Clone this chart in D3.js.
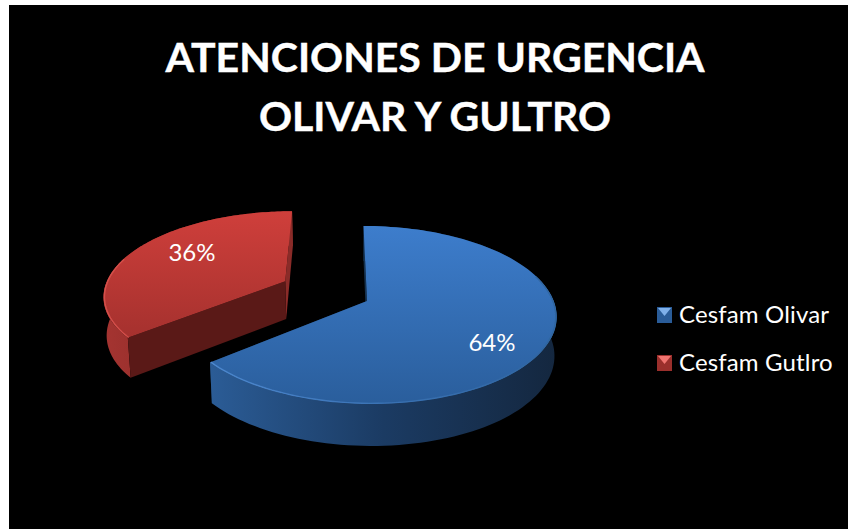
<!DOCTYPE html>
<html>
<head>
<meta charset="utf-8">
<script src="https://cdn.jsdelivr.net/npm/d3@7"></script>
<style>
html, body { margin: 0; padding: 0; background: #fff; }
svg { display: block; }
text { font-family: Lato, "Open Sans", sans-serif; fill: #fff; }
</style>
</head>
<body>
<div id="chart"></div>
<script>
const titleLines = ['ATENCIONES DE URGENCIA', 'OLIVAR Y GULTRO'];
const categories = ['Cesfam Olivar', 'Cesfam Gutlro'];
const values = [64, 36];

const w = 848, h = 529;

//// 3d look of the pie
const cx = 367, cy = 301;
const rx = 186.7, ry = 86.8;
const persp = 0.157;
const shear = 4;
const depth = 38.5;
const explode = [0, 0.47];
const sliceScale = [1, 0.985];
const nudge = [[0, 0], [-4, -3]];

const palette = [
	{ top: ['#3d7dcc', '#2a5e9c'], side: ['#2b5c96', '#1b3b63', '#14273f'], rim: ['#4d88cf', '#3a72b4', '#2f659f'], wall: '#16324f', wall2: '#16324f', light: '#7fb0ea', dark: '#2a5c98' },
	{ top: ['#cf3f3b', '#a5312e'], side: ['#a53431', '#8a2a27', '#8a2b28'], rim: ['#d5504b', '#c4403c', '#a5312e'], wall: '#5a1917', wall2: '#8a2b28', light: '#f07470', dark: '#9a2f2c' }
];

//// disc coordinates (u right, v toward viewer) to the screen, z 0 top and 1 bottom
const project = (u, v, z) => {
	const s = 1 / (1 - persp * v);
	const shrink = 1 - 0.012 * z;
	return [
		cx + (rx * u + shear * v) * s * shrink,
		cy + ry * v * s + z * depth * (1 + 0.09 * v)
	];
};

const pie = d3.pie().sort(null)(values);

const line = d3.line();

const svg = d3.select('#chart').append('svg')
	.attr('width', w)
	.attr('height', h);

const defs = svg.append('defs');

const addGradient = (id, x1, y1, x2, y2, stops) => {
	const g = defs.append('linearGradient')
		.attr('id', id)
		.attr('gradientUnits', 'userSpaceOnUse')
		.attr('x1', x1).attr('y1', y1).attr('x2', x2).attr('y2', y2);
	stops.forEach((c, i) => {
		g.append('stop')
			.attr('offset', i / (stops.length - 1))
			.attr('stop-color', c);
	});
};

defs.append('filter').attr('id', 'soft')
	.append('feGaussianBlur').attr('stdDeviation', 0.5);

svg.append('rect')
	.attr('x', 9).attr('y', 5)
	.attr('width', w - 9).attr('height', h - 5)
	.attr('fill', '#000');

//// title
svg.selectAll('text.title')
	.data(titleLines)
	.enter()
	.append('text')
	.attr('class', 'title')
	.attr('x', 435)
	.attr('y', (d, i) => 72 + i * 59)
	.attr('text-anchor', 'middle')
	.attr('font-size', 41)
	.attr('font-weight', 700)
	.attr('stroke', '#fff')
	.attr('stroke-width', 0.4)
	.text(d => d);

const slices = pie.map((d, i) => {
	const mid = (d.startAngle + d.endAngle) / 2;
	const ox = Math.sin(mid) * explode[i];
	const oy = -Math.cos(mid) * explode[i];
	const pt = (a, r, z) => {
		const rr = r * sliceScale[i];
		const p = project(ox + Math.sin(a) * rr, oy - Math.cos(a) * rr, z);
		return [p[0] + nudge[i][0], p[1] + nudge[i][1]];
	};
	const angles = d3.range(0, 121).map(k => d.startAngle + (d.endAngle - d.startAngle) * k / 120);
	return { d, i, pt, angles };
});

//// back slice first
[1, 0].forEach(i => {
	const { pt, angles, d } = slices[i];
	const col = palette[i];
	const g = svg.append('g');

	const topRim = angles.map(a => pt(a, 1, 0));
	const lowRim = angles.map(a => pt(a, 1, 1));
	const bounds = d3.extent(topRim, p => p[0]);
	const yBounds = d3.extent(topRim, p => p[1]);

	addGradient('top' + i, 0, yBounds[0], 0, yBounds[1], col.top);
	addGradient('side' + i, bounds[0], 0, bounds[1], 0, col.side);
	addGradient('rim' + i, bounds[0], 0, bounds[1], 0, col.rim);

	//// walls
	const wallAt = (a, fill) => {
		g.append('path')
			.attr('d', line([pt(a, 0, 0), pt(a, 1, 0), pt(a, 1, 1), pt(a, 0, 1)]) + 'Z')
			.attr('fill', fill);
	};
	wallAt(d.endAngle, col.wall2);

	//// outer side
	g.append('path')
		.attr('d', line(topRim.concat(lowRim.slice().reverse())) + 'Z')
		.attr('fill', `url(#side${i})`);

	wallAt(d.startAngle, col.wall);

	//// top face
	g.append('path')
		.attr('d', line([pt(0, 0, 0)].concat(topRim)) + 'Z')
		.attr('fill', `url(#top${i})`);

	//// bevel on the front part of the rim only
	g.append('path')
		.attr('d', line(angles.filter(a => Math.cos(a) < 0.3).map(a => pt(a, 0.995, 0))))
		.attr('fill', 'none')
		.attr('stroke', `url(#rim${i})`)
		.attr('stroke-width', 1.4)
		.attr('filter', 'url(#soft)');
});

//// data labels
const labelPos = [[492, 351], [192, 261]];
svg.selectAll('text.label')
	.data(values)
	.enter()
	.append('text')
	.attr('class', 'label')
	.attr('x', (d, i) => labelPos[i][0])
	.attr('y', (d, i) => labelPos[i][1])
	.attr('text-anchor', 'middle')
	.attr('font-size', 24)
	.text(d => d + '%');

//// legend
const legendY = d3.scalePoint().domain(categories).range([315, 363]);

const legend = svg.selectAll('g.legend')
	.data(categories)
	.enter()
	.append('g')
	.attr('class', 'legend')
	.attr('transform', d => `translate(657,${legendY(d)})`);

legend.each(function(d, i) {
	const col = palette[i];
	const g = d3.select(this);
	g.append('rect').attr('x', 0).attr('y', -8).attr('width', 15).attr('height', 16).attr('fill', col.dark);
	g.append('path').attr('d', 'M1,-7L14,-7L7.5,1Z').attr('fill', col.light);
	g.append('text')
		.attr('x', 22)
		.attr('y', 7.5)
		.attr('font-size', 24)
		.attr('letter-spacing', 0.15)
		.text(d);
});
</script>
</body>
</html>
